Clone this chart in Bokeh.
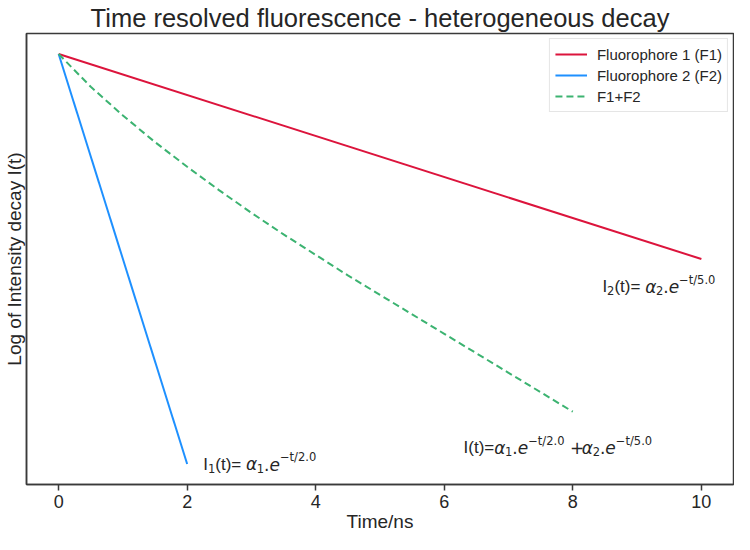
from bokeh.plotting import figure
from bokeh.models import Label, FixedTicker, Legend, LegendItem
from bokeh.embed import file_html
from bokeh.resources import INLINE

# ---------------- data ----------------
x_ticks = [0, 2, 4, 6, 8, 10]

t_f1 = [0.0, 10.0]
logI_f1 = [0.0, -2.0]

t_f2 = [0.0, 2.0]
logI_f2 = [0.0, -4.0]

t_sum = [0.0, 0.5, 1.0, 1.5, 2.0, 2.5, 3.0, 3.5, 4.0, 4.5, 5.0, 5.5, 6.0, 6.5, 7.0, 7.5, 8.0]
logI_sum = [0.0, -0.32, -0.60, -0.86, -1.10, -1.33, -1.55, -1.76, -1.96, -2.16,
            -2.35, -2.54, -2.73, -2.92, -3.11, -3.30, -3.49]

series_names = ["Fluorophore 1 (F1)", "Fluorophore 2 (F2)", "F1+F2"]

# ---------------- figure ----------------
TXT = "#262626"
p = figure(width=734, height=534, x_range=(-0.5, 10.5), y_range=(-4.2, 0.2),
           output_backend="svg", toolbar_location=None,
           title="Time resolved fluorescence - heterogeneous decay")
p.min_border_left = 25
p.min_border_right = 1
p.min_border_top = 28
p.min_border_bottom = 30
p.background_fill_color = "white"
p.border_fill_color = "white"
p.outline_line_color = "#3a3a3a"
p.outline_line_width = 1.5
p.xgrid.visible = False
p.ygrid.visible = False

p.title.text_font = "Liberation Sans"
p.title.text_font_size = "25.5px"
p.title.text_font_style = "normal"
p.title.text_color = TXT
p.title.align = "center"
p.title.standoff = 3

xa = p.xaxis[0]
xa.ticker = FixedTicker(ticks=x_ticks)
xa.axis_line_color = "#3a3a3a"
xa.axis_line_width = 1.5
xa.major_tick_line_color = "#3a3a3a"
xa.major_tick_line_width = 1.5
xa.major_tick_in = 0
xa.major_tick_out = 6
xa.minor_tick_line_color = None
xa.major_label_text_font = "Liberation Sans"
xa.major_label_text_font_size = "18px"
xa.major_label_text_color = TXT
xa.major_label_standoff = 4
xa.axis_label = "Time/ns"
xa.axis_label_text_font = "Liberation Sans"
xa.axis_label_text_font_size = "19px"
xa.axis_label_text_font_style = "normal"
xa.axis_label_text_color = TXT
xa.axis_label_standoff = 0

ya = p.yaxis[0]
ya.ticker = FixedTicker(ticks=[])
ya.axis_line_color = "#3a3a3a"
ya.axis_line_width = 1.5
ya.major_tick_line_color = None
ya.minor_tick_line_color = None
ya.major_label_text_font_size = "0px"
ya.major_label_standoff = 0
ya.axis_label = "Log of Intensity decay I(t)"
ya.axis_label_text_font = "Liberation Sans"
ya.axis_label_text_font_size = "19px"
ya.axis_label_text_font_style = "normal"
ya.axis_label_text_color = TXT
ya.axis_label_standoff = 2

r1 = p.line(t_f1, logI_f1, line_color="crimson", line_width=2)
r2 = p.line(t_f2, logI_f2, line_color="#1e90ff", line_width=2)
r3 = p.line(t_sum, logI_sum, line_color="#3cb371", line_width=2, line_dash="7 4")

legend = Legend(items=[LegendItem(label=series_names[0], renderers=[r1]),
                       LegendItem(label=series_names[1], renderers=[r2]),
                       LegendItem(label=series_names[2], renderers=[r3])],
                location="top_right")
legend.border_line_color = "#cccccc"
legend.border_line_width = 1
legend.background_fill_alpha = 0.85
legend.label_text_font = "Liberation Sans"
legend.label_text_font_size = "15px"
legend.label_text_color = TXT
legend.glyph_width = 32
legend.glyph_height = 20
legend.label_height = 20
legend.spacing = 1
legend.padding = 5
legend.margin = 5
legend.label_standoff = 10
p.add_layout(legend)

# ---------------- formula annotations ----------------
ARIAL = {"I": .278, "(": .333, "t": .278, ")": .333, "=": .584, " ": .278, "+": .584}
DEJAVU = {"α": .635, "0": .636, "1": .636, "2": .636, "5": .636, ".": .318, "e": .615,
          "−": .838, "t": .392, "/": .337, "+": .70, " ": .318}


def width(text, font, size):
    table = ARIAL if font == "Liberation Sans" else DEJAVU
    return sum(table.get(c, .6) for c in text) * size


def formula(x, y, pieces, base=17, script=11.5):
    off = 0.0
    for text, font, kind, style in pieces:
        size = base if kind == "n" else script
        dy = {"n": 0, "sub": -4, "sup": 7}[kind]
        p.add_layout(Label(x=x, y=y, x_offset=off, y_offset=dy, text=text,
                           text_font=font, text_font_size=f"{size}px",
                           text_font_style=style, text_color=TXT,
                           text_baseline="alphabetic", text_align="left"))
        off += width(text, font, size)


A = "Liberation Sans"
D = "DejaVu Sans"
formula(2.25, -4.0, [("I", A, "n", "normal"), ("1", D, "sub", "normal"),
                     ("(t)= ", A, "n", "normal"), ("α", D, "n", "italic"),
                     ("1", D, "sub", "normal"), (".", D, "n", "normal"),
                     ("e", D, "n", "italic"), ("−t/2.0", D, "sup", "normal")])
formula(8.46, -2.27, [("I", A, "n", "normal"), ("2", D, "sub", "normal"),
                      ("(t)= ", A, "n", "normal"), ("α", D, "n", "italic"),
                      ("2", D, "sub", "normal"), (".", D, "n", "normal"),
                      ("e", D, "n", "italic"), ("−t/5.0", D, "sup", "normal")])
formula(6.3, -3.84, [("I(t)=", A, "n", "normal"), ("α", D, "n", "italic"),
                     ("1", D, "sub", "normal"), (".", D, "n", "normal"),
                     ("e", D, "n", "italic"), ("−t/2.0", D, "sup", "normal"),
                     (" ", D, "n", "normal"), ("+", D, "n", "normal"),
                     ("α", D, "n", "italic"),
                     ("2", D, "sub", "normal"), (".", D, "n", "normal"),
                     ("e", D, "n", "italic"), ("−t/5.0", D, "sup", "normal")])

open("out.html", "w").write(file_html(p, INLINE))
